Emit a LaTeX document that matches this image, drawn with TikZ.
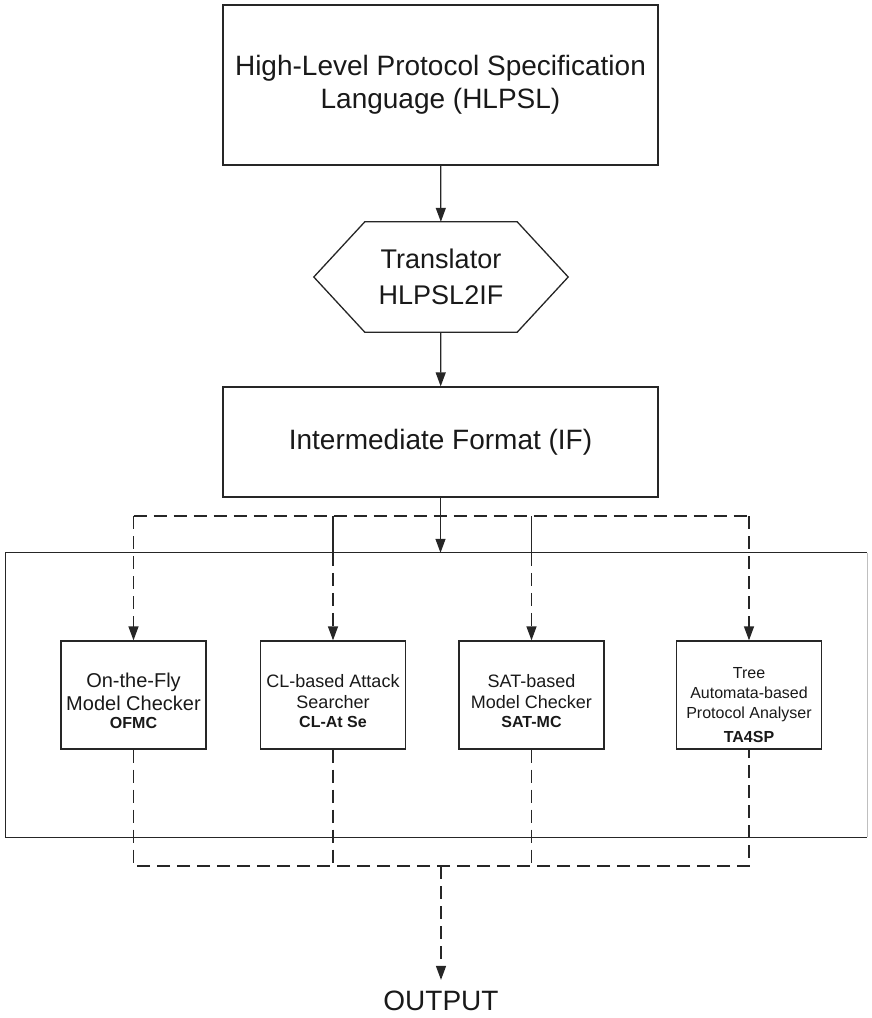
\documentclass[tikz,border=0pt]{standalone}
\usepackage{fontspec}
\setmainfont{Liberation Sans}
\usetikzlibrary{arrows.meta}

\tikzset{
  flowLine/.style={draw=black!85, line width=1.3pt},
  flowArrow/.style={flowLine, -{Triangle[length=14pt,width=10pt]}},
  dashLink/.style={flowLine, dash pattern=on 13pt off 7pt},
  flowBox/.style={flowLine, minimum width=435pt, inner sep=0pt, align=center,
    font=\fontsize{28}{33}\selectfont},
  toolFrame/.style={flowLine, minimum width=145pt, minimum height=108pt},
}
\newcommand{\toolBox}[6]{%
    \node[toolFrame] (#1) at (#2,695) {};
    \node[inner sep=0pt, align=center, font=\fontsize{#4}{#5}\selectfont] (#1Text) at (#2,#3) {#6};
}

\begin{document}
\begin{tikzpicture}[x=1pt, y=-1pt, text=black!90]
    \useasboundingbox (0,0) rectangle (871,1018);

    % --- ROW 1: specification, translator, IF ---
    \node[flowBox, minimum height=160pt] (hlpsl) at (440.5,85) {High-Level Protocol Specification\\Language (HLPSL)};
    \node[minimum width=254pt, minimum height=110pt, inner sep=0pt, align=center,
          font=\fontsize{27}{36}\selectfont] (translator) at (441,277) {Translator\\HLPSL2IF};
    \draw[flowLine] (translator.west) -- ([xshift=51pt]translator.north west)
        -- ([xshift=-51pt]translator.north east) -- (translator.east)
        -- ([xshift=-51pt]translator.south east) -- ([xshift=51pt]translator.south west) -- cycle;
    \node[flowBox, minimum height=110pt] (if) at (440.5,442) {Intermediate Format (IF)};

    \draw[flowArrow] (hlpsl) -- (translator);
    \draw[flowArrow] (translator) -- (if);

    % --- ROW 2: frame with the four back-ends ---
    \node[minimum width=861pt, minimum height=284pt, inner sep=0pt] (backends) at (436.5,695) {};
    \draw[flowLine] (backends.north east) -- (backends.north west) -- (backends.south west) -- (backends.south east);
    \draw[black!25, line width=1pt] (backends.north east) -- (backends.south east);

    \draw[flowArrow] (if.south) -- (if.south |- backends.north);

    \toolBox{ofmc}{133.5}{701}{20}{23}{On-the-Fly\\Model Checker\\[-5pt]{\bfseries\fontsize{16}{16}\selectfont OFMC}}
    \toolBox{clatse}{333}{701.5}{18}{21}{CL-based Attack\\Searcher\\[-2pt]{\bfseries\fontsize{16}{16}\selectfont CL-At Se}}
    \toolBox{satmc}{531.5}{701.5}{18}{21}{SAT-based\\Model Checker\\[-2pt]{\bfseries\fontsize{16}{16}\selectfont SAT-MC}}
    \toolBox{tafsp}{749}{705}{16}{20}{Tree\\Automata-based\\Protocol Analyser\\[4pt]{\bfseries TA4SP}}

    % fan-out from IF
    \coordinate (fork) at (441,516);
    \draw[dashLink] (fork -| ofmc.north) -- (fork -| tafsp.north);
    \draw[dashLink, flowArrow] (fork -| ofmc.north) -- (ofmc.north);
    \draw[flowLine] (fork -| clatse.north) -- (backends.north -| clatse.north);
    \draw[dashLink, flowArrow] (backends.north -| clatse.north) -- (clatse.north);
    \draw[flowLine] (fork -| satmc.north) -- (backends.north -| satmc.north);
    \draw[dashLink, flowArrow] (backends.north -| satmc.north) -- (satmc.north);
    \draw[dashLink, flowArrow] (fork -| tafsp.north) -- (tafsp.north);

    % --- ROW 3: fan-in to the output ---
    \coordinate (join) at (441,866);
    \node[inner sep=0pt, font=\fontsize{28}{28}\selectfont] (output) at (441,1001) {OUTPUT};

    \draw[dashLink] (ofmc.south) |- (join -| tafsp.south) -- (tafsp.south);
    \draw[dashLink] (clatse.south) -- (clatse.south |- join);
    \draw[dashLink] (satmc.south) -- (satmc.south |- join);
    \draw[dashLink, flowArrow, shorten >=11pt] (join) -- (output.north);

\end{tikzpicture}
\end{document}
